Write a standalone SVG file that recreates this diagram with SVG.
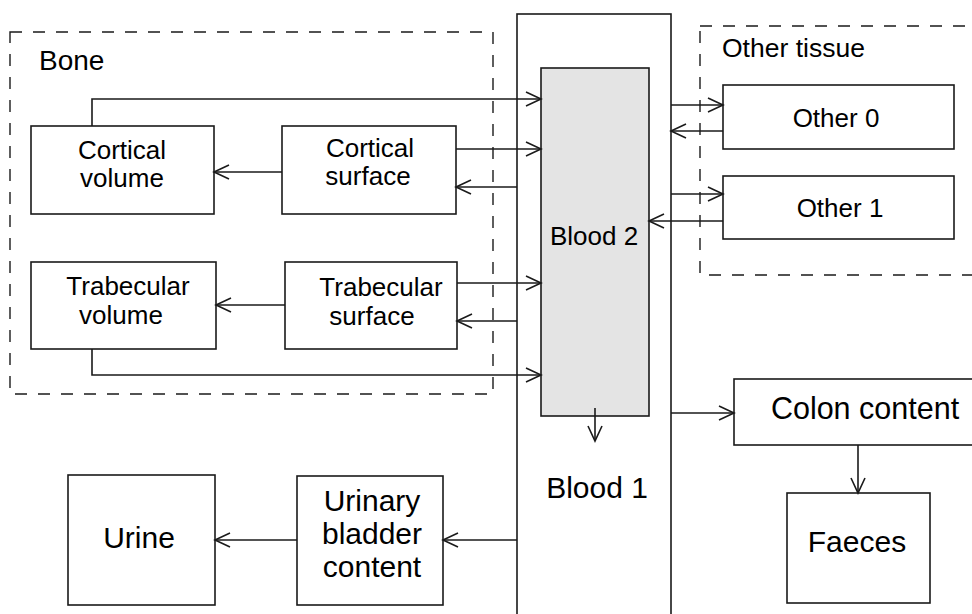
<svg xmlns="http://www.w3.org/2000/svg" width="972" height="614" viewBox="0 0 972 614">
  <style>
    .box { fill: #ffffff; stroke: #1a1a1a; stroke-width: 1.6; }
    .blood2 { fill: #e4e4e4; stroke: #1a1a1a; stroke-width: 1.6; }
    .group { fill: none; stroke: #1a1a1a; stroke-width: 1.4; stroke-dasharray: 12 11; }
    .link { fill: none; stroke: #1a1a1a; stroke-width: 1.6; marker-end: url(#arrow); }
    text { font-family: "Liberation Sans", Arial, sans-serif; fill: #000000; }
    .m { text-anchor: middle; font-size: 26px; }
    .l { text-anchor: middle; font-size: 30px; }
  </style>
  <defs>
    <marker id="arrow" viewBox="-17 -9 19 18" markerWidth="19" markerHeight="18" refX="0" refY="0" orient="auto" markerUnits="userSpaceOnUse">
      <path d="M-15,-7 L0,0 L-15,7" fill="none" stroke="#1a1a1a" stroke-width="1.6"/>
    </marker>
  </defs>

  <!-- compartment groups -->
  <g id="bone">
    <rect class="group" x="10" y="32" width="483" height="362"/>
    <text x="39" y="70" font-size="28">Bone</text>
  </g>
  <g id="other-tissue">
    <rect class="group" x="700" y="26" width="300" height="249"/>
    <text x="722" y="57" font-size="26.5">Other tissue</text>
  </g>

  <!-- blood compartments -->
  <g id="blood1">
    <rect class="box" x="517" y="14" width="154" height="620"/>
    <text class="l" x="597" y="498">Blood 1</text>
  </g>
  <g id="blood2">
    <rect class="blood2" x="541" y="68" width="108" height="348"/>
    <text class="m" x="594" y="245" font-size="26.5">Blood 2</text>
  </g>

  <!-- bone compartments -->
  <g id="cortical-volume">
    <rect class="box" x="31" y="126" width="183" height="88"/>
    <text class="m" x="122" y="159">Cortical</text>
    <text class="m" x="122" y="187">volume</text>
  </g>
  <g id="cortical-surface">
    <rect class="box" x="282" y="126" width="174" height="88"/>
    <text class="m" x="370" y="157">Cortical</text>
    <text class="m" x="368" y="185">surface</text>
  </g>
  <g id="trabecular-volume">
    <rect class="box" x="31" y="262" width="185" height="87"/>
    <text class="m" x="128" y="295">Trabecular</text>
    <text class="m" x="121" y="324">volume</text>
  </g>
  <g id="trabecular-surface">
    <rect class="box" x="285" y="262" width="172" height="87"/>
    <text class="m" x="381" y="296">Trabecular</text>
    <text class="m" x="372" y="325">surface</text>
  </g>

  <!-- other tissue compartments -->
  <g id="other0">
    <rect class="box" x="723" y="85" width="231" height="64"/>
    <text class="m" x="836" y="127" font-size="26.5">Other 0</text>
  </g>
  <g id="other1">
    <rect class="box" x="723" y="176" width="231" height="63"/>
    <text class="m" x="840" y="217" font-size="26.5">Other 1</text>
  </g>

  <!-- excretion pathways -->
  <g id="colon-content">
    <rect class="box" x="734" y="379" width="260" height="66"/>
    <text x="865" y="419" font-size="30.5" text-anchor="middle">Colon content</text>
  </g>
  <g id="faeces">
    <rect class="box" x="787" y="493" width="143" height="110"/>
    <text class="l" x="857" y="552">Faeces</text>
  </g>
  <g id="urinary-bladder">
    <rect class="box" x="297" y="476" width="146" height="129"/>
    <text class="l" x="372" y="511">Urinary</text>
    <text class="l" x="372" y="544">bladder</text>
    <text class="l" x="372" y="577">content</text>
  </g>
  <g id="urine">
    <rect class="box" x="68" y="475" width="147" height="130"/>
    <text class="l" x="139" y="548">Urine</text>
  </g>

  <!-- transfer paths -->
  <g id="connectors">
    <polyline class="link" points="92,126 92,99 541,99"/>
    <line class="link" x1="456" y1="149" x2="541" y2="149"/>
    <line class="link" x1="517" y1="187" x2="456" y2="187"/>
    <line class="link" x1="282" y1="172" x2="214" y2="172"/>
    <line class="link" x1="457" y1="283" x2="541" y2="283"/>
    <line class="link" x1="517" y1="321" x2="457" y2="321"/>
    <line class="link" x1="285" y1="305" x2="216" y2="305"/>
    <polyline class="link" points="92,349 92,375 541,375"/>
    <line class="link" x1="671" y1="105" x2="723" y2="105"/>
    <line class="link" x1="723" y1="131" x2="671" y2="131"/>
    <line class="link" x1="671" y1="194" x2="723" y2="194"/>
    <line class="link" x1="723" y1="221" x2="649" y2="221"/>
    <line class="link" x1="595" y1="408" x2="595" y2="441"/>
    <line class="link" x1="671" y1="413" x2="734" y2="413"/>
    <line class="link" x1="858" y1="445" x2="858" y2="493"/>
    <line class="link" x1="517" y1="540" x2="443" y2="540"/>
    <line class="link" x1="297" y1="540" x2="215" y2="540"/>
  </g>
</svg>
